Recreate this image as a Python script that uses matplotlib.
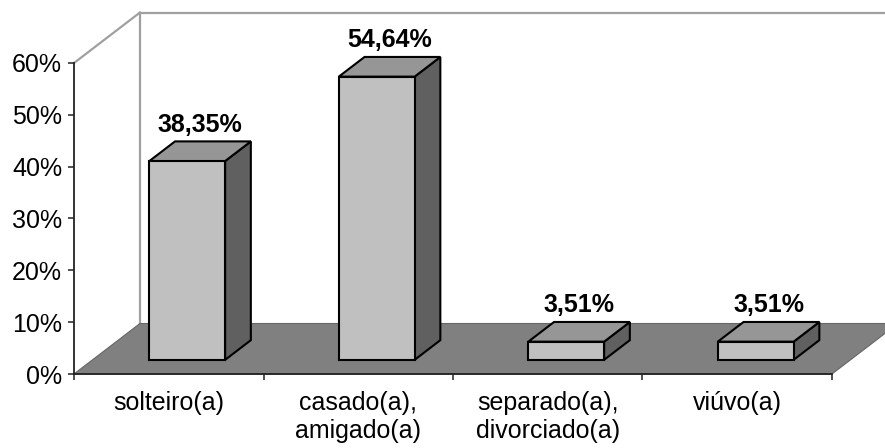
import matplotlib
matplotlib.use("Agg")
import matplotlib.pyplot as plt
from matplotlib.patches import Polygon
from matplotlib.ticker import FuncFormatter

plt.rcParams["font.family"] = ["Liberation Sans", "DejaVu Sans"]

categories = ["solteiro(a)", "casado(a),\namigado(a)", "separado(a),\ndivorciado(a)", "viúvo(a)"]
values = [38.35, 54.64, 3.51, 3.51]  # percent
y_ticks = [0, 10, 20, 30, 40, 50, 60]

# 3d look: depth offset of the back wall in data units (categories, percent)
DX, DY = 0.348, 9.74
# bar slab position within the depth, and bar width within a category
D0, D1 = 0.28, 0.67
BAR_W = 0.40
FS = 18

FRONT = "#c0c0c0"
TOP = "#969696"
SIDE = "#606060"
FLOOR = "#808080"
WALL = "#a0a0a0"


def proj(x, v, d):
    return (x + d * DX, v + d * DY)


fig = plt.figure(figsize=(8.85, 4.48), dpi=100)
# axes rectangle = front plane of the 3d box
ax = fig.add_axes([74 / 885, (448 - 374) / 448, 758 / 885, 311 / 448])
ax.set_xlim(0, len(categories))
ax.set_ylim(0, y_ticks[-1])

n = len(categories)
top = y_ticks[-1]

# floor
ax.add_patch(Polygon([proj(0, 0, 0), proj(n, 0, 0), proj(n, 0, 1), proj(0, 0, 1)],
                     closed=True, facecolor=FLOOR, edgecolor="#666666", lw=0.8,
                     clip_on=False, zorder=1))
# back / side wall edges
ax.plot(*zip(proj(0, 0, 1), proj(0, top, 1)), color=WALL, lw=1.6, clip_on=False, zorder=0.5)
ax.plot(*zip(proj(0, top, 1), proj(n, top, 1)), color=WALL, lw=1.6, clip_on=False, zorder=0.5)
ax.plot(*zip(proj(0, top, 0), proj(0, top, 1)), color=WALL, lw=1.6, clip_on=False, zorder=0.5)

for i, v in enumerate(values):
    x0 = i + 0.5 - BAR_W / 2
    x1 = i + 0.5 + BAR_W / 2
    side = [proj(x1, 0, D0), proj(x1, 0, D1), proj(x1, v, D1), proj(x1, v, D0)]
    roof = [proj(x0, v, D0), proj(x1, v, D0), proj(x1, v, D1), proj(x0, v, D1)]
    front = [proj(x0, 0, D0), proj(x1, 0, D0), proj(x1, v, D0), proj(x0, v, D0)]
    for pts, col in ((side, SIDE), (roof, TOP), (front, FRONT)):
        ax.add_patch(Polygon(pts, closed=True, facecolor=col, edgecolor="black",
                             lw=1.5, joinstyle="miter", clip_on=False, zorder=3))
    label = f"{v:.2f}%".replace(".", ",")
    ax.annotate(label, xy=(i + 0.5 + (D0 + D1) / 2 * DX, v + D1 * DY),
                xytext=(0, 7), textcoords="offset points", ha="center",
                va="baseline", fontsize=FS, fontweight="bold", zorder=4,
                annotation_clip=False)

for s in ("top", "right"):
    ax.spines[s].set_visible(False)
for s in ("left", "bottom"):
    ax.spines[s].set_color("#222222")
    ax.spines[s].set_linewidth(1.3)
    ax.spines[s].set_zorder(2)
ax.patch.set_visible(False)

ax.set_yticks(y_ticks)
ax.yaxis.set_major_formatter(FuncFormatter(lambda y, _: f"{y:.0f}%"))
ax.tick_params(axis="y", direction="out", length=4.5, width=1.1, pad=4,
               labelsize=FS, color="#222222")

ax.set_xticks(range(n + 1))
ax.set_xticklabels([])
ax.set_xticks([i + 0.5 for i in range(n)], minor=True)
ax.set_xticklabels(categories, minor=True, fontsize=FS, linespacing=1.25)
ax.tick_params(axis="x", which="minor", length=0, pad=12)
ax.tick_params(axis="x", which="major", direction="out", length=4.5, width=1.1,
               color="#222222")

fig.savefig("out.png", dpi=100)
